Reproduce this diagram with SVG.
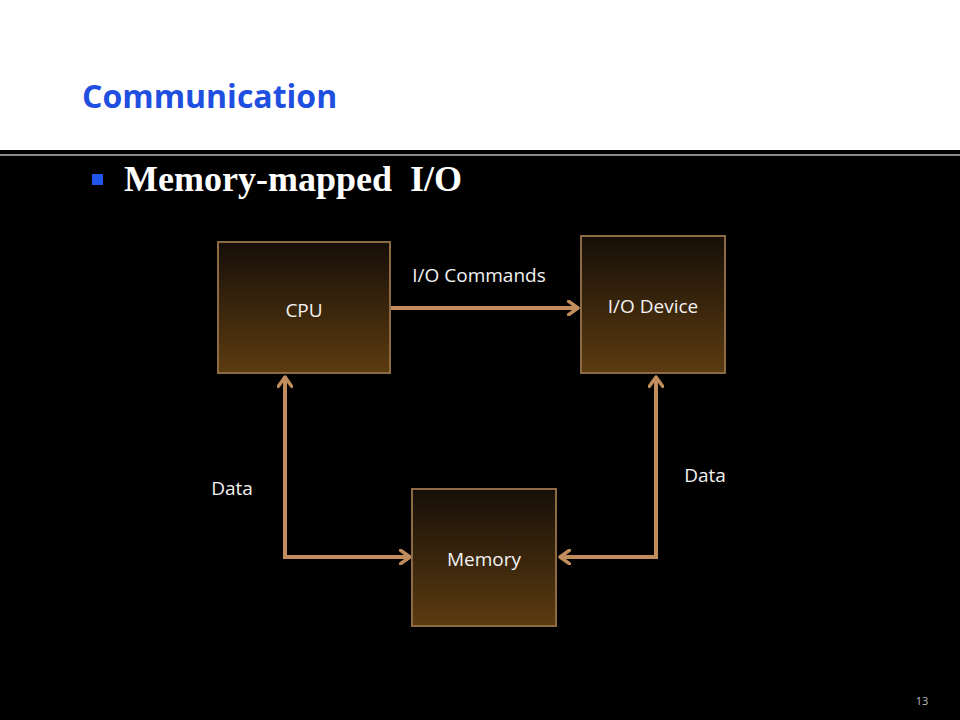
<svg xmlns="http://www.w3.org/2000/svg" width="960" height="720" viewBox="0 0 960 720">
  <style>
    .title { font-family: "Open Sans", "Liberation Sans", sans-serif; font-weight: bold; font-size: 32px; fill: #1f4fe0; }
    .bullet-text { font-family: "Liberation Serif", serif; font-weight: bold; font-size: 36px; fill: #ffffff; }
    .box { stroke: #8c6a44; stroke-width: 2; fill: url(#boxFill); }
    .label { font-family: "Open Sans", "Liberation Sans", sans-serif; font-size: 19px; fill: #f2f2f2; }
    .wire { fill: none; stroke: #c28d5c; stroke-width: 4; }
    .page { font-family: "Open Sans", "Liberation Sans", sans-serif; font-size: 11px; fill: #bbbbbb; }
  </style>
  <defs>
    <linearGradient id="boxFill" x1="0" y1="0" x2="0" y2="1">
      <stop offset="0" stop-color="#160f08"/>
      <stop offset="1" stop-color="#5c3b10"/>
    </linearGradient>
    <marker id="chev" viewBox="0 0 12 12" refX="10" refY="6" markerWidth="4" markerHeight="4" orient="auto" markerUnits="strokeWidth">
      <path d="M3,1 L10,6 L3,11" fill="none" stroke="#c28d5c" stroke-width="2.6" stroke-linecap="round" stroke-linejoin="round"/>
    </marker>
  </defs>

  <!-- slide background -->
  <rect x="0" y="0" width="960" height="150" fill="#ffffff"/>
  <rect x="0" y="150" width="960" height="570" fill="#000000"/>
  <rect x="0" y="154" width="960" height="2" fill="#8a8a8a"/>

  <text class="title" x="82" y="108">Communication</text>
  <rect x="92" y="174" width="11" height="11" fill="#1f55e8"/>
  <text class="bullet-text" y="191"><tspan x="124">Memory-mapped</tspan><tspan x="410">I/O</tspan></text>

  <!-- connectors -->
  <g id="connectors">
    <line class="wire" x1="391" y1="308" x2="578" y2="308" marker-end="url(#chev)"/>
    <text class="label" x="479" y="282" text-anchor="middle">I/O Commands</text>
    <polyline class="wire" points="410,557 285,557 285,377" marker-end="url(#chev)"/>
    <polyline class="wire" points="285,377 285,557 410,557" marker-end="url(#chev)"/>
    <text class="label" x="232" y="495" text-anchor="middle">Data</text>
    <polyline class="wire" points="560,557 656,557 656,377" marker-end="url(#chev)"/>
    <polyline class="wire" points="656,377 656,557 560,557" marker-end="url(#chev)"/>
    <text class="label" x="705" y="482" text-anchor="middle">Data</text>
  </g>

  <g id="cpu">
    <rect class="box" x="218" y="242" width="172" height="131"/>
    <text class="label" x="304" y="317" text-anchor="middle">CPU</text>
  </g>
  <g id="io-device">
    <rect class="box" x="581" y="236" width="144" height="137"/>
    <text class="label" x="653" y="313" text-anchor="middle">I/O Device</text>
  </g>
  <g id="memory">
    <rect class="box" x="412" y="489" width="144" height="137"/>
    <text class="label" x="484" y="566" text-anchor="middle">Memory</text>
  </g>

  <text class="page" x="922" y="705" text-anchor="middle">13</text>
</svg>
